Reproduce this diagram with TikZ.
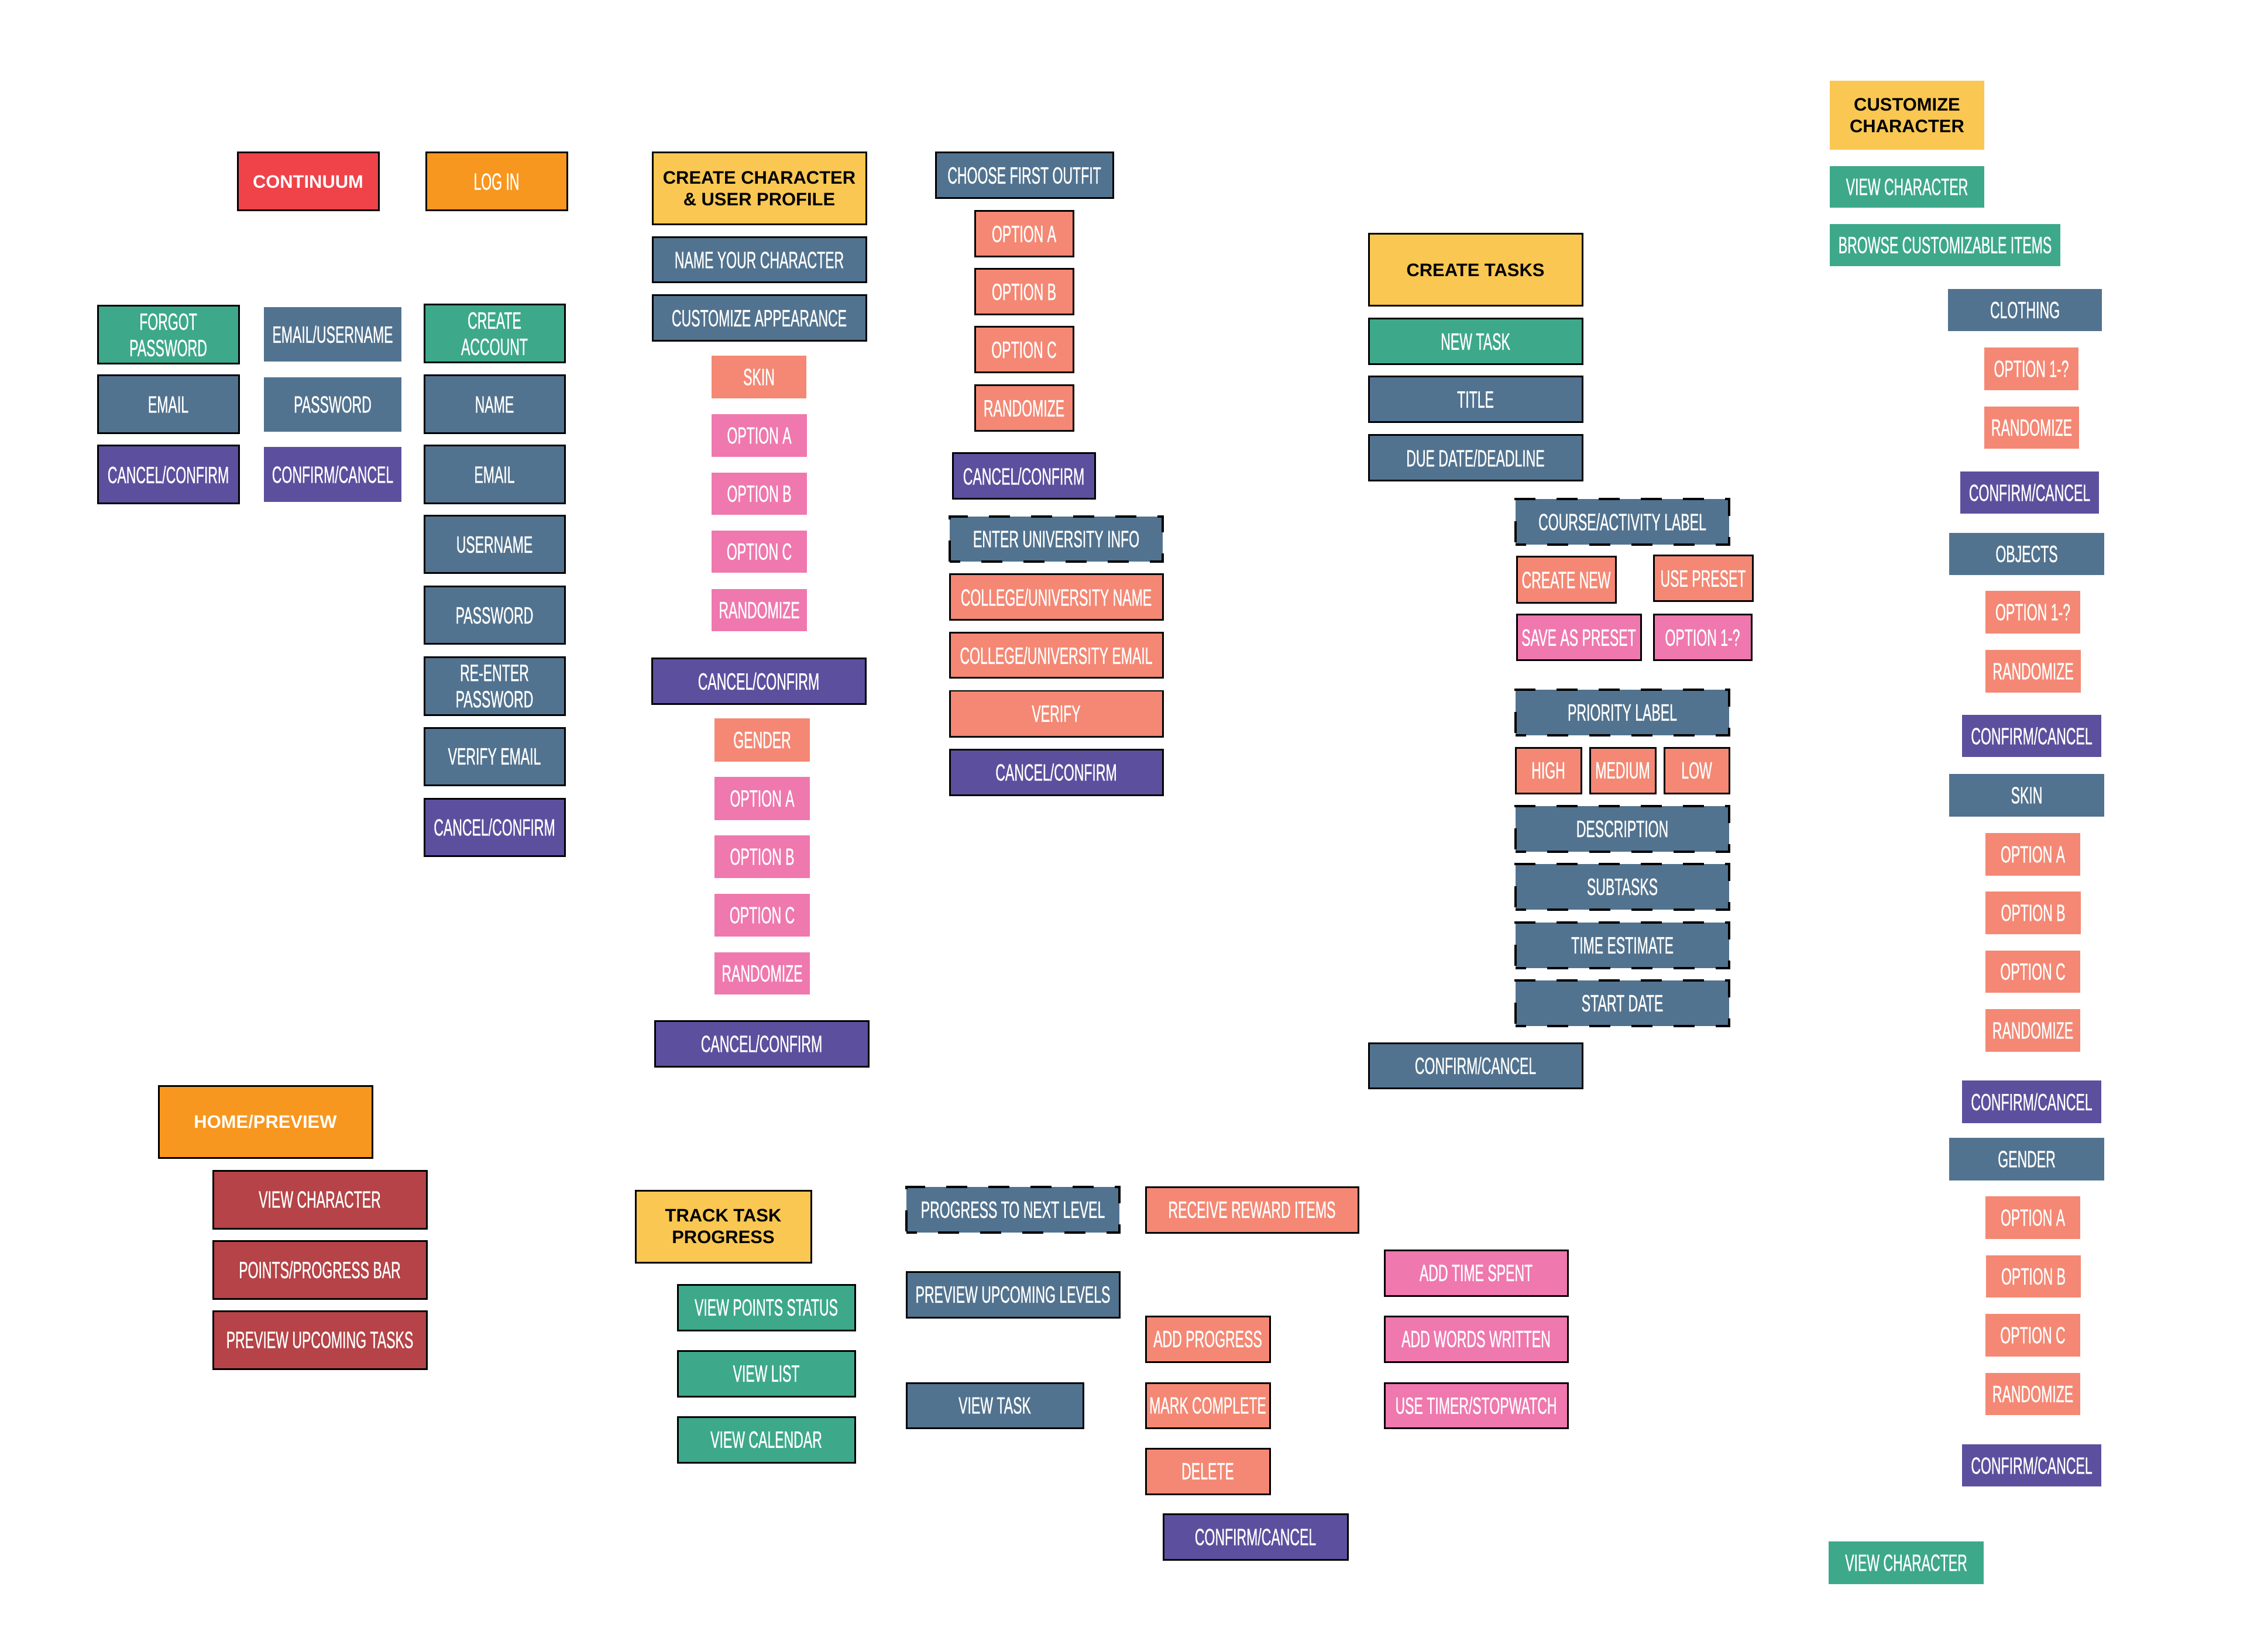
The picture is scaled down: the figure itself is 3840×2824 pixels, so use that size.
\documentclass[tikz,border=0pt]{standalone}
\usepackage{fontspec}
\setmainfont{Liberation Sans}
\newfontfamily\condf[FakeStretch=0.57,FakeBold=0.6]{Liberation Sans}
\definecolor{cRed}{RGB}{239,66,73}
\definecolor{cOrange}{RGB}{247,151,31}
\definecolor{cGreen}{RGB}{61,169,138}
\definecolor{cBlue}{RGB}{82,115,143}
\definecolor{cPurple}{RGB}{92,80,158}
\definecolor{cYellow}{RGB}{249,199,82}
\definecolor{cSalmon}{RGB}{244,136,116}
\definecolor{cPink}{RGB}{239,120,174}
\definecolor{cDark}{RGB}{181,67,71}
\newcommand{\placebox}[7]{\node[#6, minimum width={(#4-#2)*0.1mm}, minimum height={(#5-#3)*0.1mm}] (#1) at ({(#2+#4)/2},{(#3+#5)/2}) {#7};}
\tikzset{
  box/.style={rectangle, inner sep=0pt, outer sep=0pt, text=white, align=center,
    font=\condf\fontsize{11.5}{12.8}\selectfont},
  bd/.style={box, draw=black, line width=0.3mm},
  dsh/.style={box, draw=black, line width=0.4mm, dash pattern=on 3.6mm off 3.6mm, dash phase=1.8mm},
  hdr/.style={text=black, font=\bfseries\fontsize{8.8}{10.6}\selectfont},
  whdr/.style={text=white, font=\bfseries\fontsize{8.8}{10.6}\selectfont},
}
\begin{document}
\begin{tikzpicture}[x=0.1mm,y=-0.1mm]
\fill[white] (0,0) rectangle (3840,2824);
\useasboundingbox (0,0) rectangle (3840,2824);
% ---- login area
\placebox{cont}{406}{261}{647}{360}{bd,fill=cRed,whdr}{CONTINUUM}
\placebox{login}{728}{261}{969}{360}{bd,fill=cOrange}{LOG IN}
\placebox{forgot}{167}{523}{408}{622}{bd,fill=cGreen}{FORGOT\\PASSWORD}
\placebox{emailuser}{451}{525}{686}{618}{box,fill=cBlue}{EMAIL/USERNAME}
\placebox{createacc}{725}{521}{965}{620}{bd,fill=cGreen}{CREATE\\ACCOUNT}
\placebox{emaila}{167}{642}{408}{741}{bd,fill=cBlue}{EMAIL}
\placebox{passa}{451}{645}{686}{738}{box,fill=cBlue}{PASSWORD}
\placebox{name}{725}{642}{965}{741}{bd,fill=cBlue}{NAME}
\placebox{cca}{167}{762}{408}{861}{bd,fill=cPurple}{CANCEL/CONFIRM}
\placebox{ccb}{451}{764}{686}{858}{box,fill=cPurple}{CONFIRM/CANCEL}
\placebox{emailb}{725}{762}{965}{861}{bd,fill=cBlue}{EMAIL}
\placebox{username}{725}{882}{965}{980}{bd,fill=cBlue}{USERNAME}
\placebox{passb}{725}{1003}{965}{1101}{bd,fill=cBlue}{PASSWORD}
\placebox{reenter}{725}{1124}{965}{1222}{bd,fill=cBlue}{RE-ENTER\\PASSWORD}
\placebox{verifyemail}{725}{1244}{965}{1342}{bd,fill=cBlue}{VERIFY EMAIL}
\placebox{ccc}{725}{1365}{965}{1463}{bd,fill=cPurple}{CANCEL/CONFIRM}
% ---- create character
\placebox{createchar}{1115}{261}{1480}{384}{bd,fill=cYellow,hdr}{CREATE CHARACTER\\\& USER PROFILE}
\placebox{namechar}{1115}{406}{1480}{483}{bd,fill=cBlue}{NAME YOUR CHARACTER}
\placebox{custapp}{1115}{505}{1480}{583}{bd,fill=cBlue}{CUSTOMIZE APPEARANCE}
\placebox{skina}{1216}{608}{1378}{681}{box,fill=cSalmon}{SKIN}
\placebox{oaa}{1216}{708}{1379}{781}{box,fill=cPink}{OPTION A}
\placebox{oba}{1216}{808}{1379}{880}{box,fill=cPink}{OPTION B}
\placebox{oca}{1216}{907}{1379}{979}{box,fill=cPink}{OPTION C}
\placebox{randa}{1216}{1007}{1379}{1079}{box,fill=cPink}{RANDOMIZE}
\placebox{ccd}{1114}{1126}{1479}{1203}{bd,fill=cPurple}{CANCEL/CONFIRM}
\placebox{gendera}{1221}{1228}{1384}{1302}{box,fill=cSalmon}{GENDER}
\placebox{oab}{1221}{1328}{1384}{1402}{box,fill=cPink}{OPTION A}
\placebox{obb}{1221}{1428}{1384}{1501}{box,fill=cPink}{OPTION B}
\placebox{ocb}{1221}{1528}{1384}{1601}{box,fill=cPink}{OPTION C}
\placebox{randb}{1221}{1628}{1384}{1700}{box,fill=cPink}{RANDOMIZE}
\placebox{cce}{1119}{1745}{1484}{1823}{bd,fill=cPurple}{CANCEL/CONFIRM}
% ---- outfit / university
\placebox{outfit}{1599}{261}{1902}{339}{bd,fill=cBlue}{CHOOSE FIRST OUTFIT}
\placebox{oac}{1666}{361}{1834}{439}{bd,fill=cSalmon}{OPTION A}
\placebox{obc}{1666}{460}{1834}{538}{bd,fill=cSalmon}{OPTION B}
\placebox{occ}{1666}{559}{1834}{637}{bd,fill=cSalmon}{OPTION C}
\placebox{randc}{1666}{659}{1834}{737}{bd,fill=cSalmon}{RANDOMIZE}
\placebox{ccf}{1628}{775}{1871}{853}{bd,fill=cPurple}{CANCEL/CONFIRM}
\placebox{univ}{1623}{883}{1987}{960}{dsh,fill=cBlue}{ENTER UNIVERSITY INFO}
\placebox{cname}{1623}{982}{1987}{1060}{bd,fill=cSalmon}{COLLEGE/UNIVERSITY NAME}
\placebox{cemail}{1623}{1082}{1987}{1159}{bd,fill=cSalmon}{COLLEGE/UNIVERSITY EMAIL}
\placebox{verify}{1623}{1181}{1987}{1259}{bd,fill=cSalmon}{VERIFY}
\placebox{ccg}{1623}{1281}{1987}{1359}{bd,fill=cPurple}{CANCEL/CONFIRM}
% ---- tasks
\placebox{ctasks}{2339}{400}{2704}{523}{bd,fill=cYellow,hdr}{CREATE TASKS}
\placebox{newtask}{2339}{545}{2704}{623}{bd,fill=cGreen}{NEW TASK}
\placebox{title}{2339}{644}{2704}{722}{bd,fill=cBlue}{TITLE}
\placebox{due}{2339}{744}{2704}{822}{bd,fill=cBlue}{DUE DATE/DEADLINE}
\placebox{course}{2590}{853}{2955}{931}{dsh,fill=cBlue}{COURSE/ACTIVITY LABEL}
\placebox{cnew}{2592}{952}{2761}{1031}{bd,fill=cSalmon}{CREATE NEW}
\placebox{upreset}{2826}{950}{2995}{1028}{bd,fill=cSalmon}{USE PRESET}
\placebox{savep}{2592}{1051}{2804}{1129}{bd,fill=cPink}{SAVE AS PRESET}
\placebox{optq}{2826}{1051}{2993}{1129}{bd,fill=cPink}{OPTION 1-?}
\placebox{priority}{2590}{1179}{2955}{1257}{dsh,fill=cBlue}{PRIORITY LABEL}
\placebox{high}{2590}{1278}{2702}{1356}{bd,fill=cSalmon}{HIGH}
\placebox{medium}{2717}{1278}{2829}{1356}{bd,fill=cSalmon}{MEDIUM}
\placebox{low}{2844}{1278}{2955}{1356}{bd,fill=cSalmon}{LOW}
\placebox{desc}{2590}{1378}{2955}{1456}{dsh,fill=cBlue}{DESCRIPTION}
\placebox{subt}{2590}{1477}{2955}{1555}{dsh,fill=cBlue}{SUBTASKS}
\placebox{timeest}{2590}{1577}{2955}{1655}{dsh,fill=cBlue}{TIME ESTIMATE}
\placebox{start}{2590}{1676}{2955}{1754}{dsh,fill=cBlue}{START DATE}
\placebox{cch}{2339}{1783}{2704}{1860}{bd,fill=cBlue}{CONFIRM/CANCEL}
% ---- customize character
\placebox{custchar}{3127}{138}{3391}{256}{box,fill=cYellow,hdr}{CUSTOMIZE\\CHARACTER}
\placebox{viewcha}{3127}{284}{3391}{355}{box,fill=cGreen}{VIEW CHARACTER}
\placebox{browse}{3127}{383}{3521}{455}{box,fill=cGreen}{BROWSE CUSTOMIZABLE ITEMS}
\placebox{cloth}{3329}{494}{3592}{566}{box,fill=cBlue}{CLOTHING}
\placebox{oqa}{3391}{594}{3552}{667}{box,fill=cSalmon}{OPTION 1-?}
\placebox{rnda}{3391}{695}{3553}{767}{box,fill=cSalmon}{RANDOMIZE}
\placebox{cci}{3350}{806}{3587}{878}{box,fill=cPurple}{CONFIRM/CANCEL}
\placebox{obj}{3331}{911}{3596}{983}{box,fill=cBlue}{OBJECTS}
\placebox{oqb}{3393}{1010}{3555}{1083}{box,fill=cSalmon}{OPTION 1-?}
\placebox{rndb}{3393}{1111}{3556}{1184}{box,fill=cSalmon}{RANDOMIZE}
\placebox{ccj}{3353}{1222}{3591}{1294}{box,fill=cPurple}{CONFIRM/CANCEL}
\placebox{skinb}{3331}{1323}{3596}{1396}{box,fill=cBlue}{SKIN}
\placebox{oad}{3393}{1424}{3555}{1497}{box,fill=cSalmon}{OPTION A}
\placebox{obd}{3393}{1524}{3556}{1597}{box,fill=cSalmon}{OPTION B}
\placebox{ocd}{3393}{1625}{3555}{1697}{box,fill=cSalmon}{OPTION C}
\placebox{rndc}{3393}{1725}{3555}{1798}{box,fill=cSalmon}{RANDOMIZE}
\placebox{cck}{3353}{1847}{3591}{1920}{box,fill=cPurple}{CONFIRM/CANCEL}
\placebox{genderb}{3331}{1945}{3596}{2018}{box,fill=cBlue}{GENDER}
\placebox{oae}{3393}{2045}{3555}{2118}{box,fill=cSalmon}{OPTION A}
\placebox{obe}{3394}{2146}{3556}{2218}{box,fill=cSalmon}{OPTION B}
\placebox{oce}{3393}{2246}{3555}{2319}{box,fill=cSalmon}{OPTION C}
\placebox{rndd}{3393}{2347}{3555}{2419}{box,fill=cSalmon}{RANDOMIZE}
\placebox{ccl}{3353}{2469}{3591}{2541}{box,fill=cPurple}{CONFIRM/CANCEL}
\placebox{viewchb}{3125}{2635}{3390}{2708}{box,fill=cGreen}{VIEW CHARACTER}
% ---- home / tracking
\placebox{home}{271}{1856}{636}{1979}{bd,fill=cOrange,whdr}{HOME/PREVIEW}
\placebox{viewchc}{364}{2001}{729}{2100}{bd,fill=cDark}{VIEW CHARACTER}
\placebox{points}{364}{2121}{729}{2220}{bd,fill=cDark}{POINTS/PROGRESS BAR}
\placebox{prevtasks}{364}{2241}{729}{2340}{bd,fill=cDark}{PREVIEW UPCOMING TASKS}
\placebox{track}{1086}{2035}{1386}{2158}{bd,fill=cYellow,hdr}{TRACK TASK\\PROGRESS}
\placebox{vpoints}{1158}{2196}{1461}{2274}{bd,fill=cGreen}{VIEW POINTS STATUS}
\placebox{vlist}{1158}{2309}{1461}{2387}{bd,fill=cGreen}{VIEW LIST}
\placebox{vcal}{1158}{2422}{1461}{2500}{bd,fill=cGreen}{VIEW CALENDAR}
\placebox{pnext}{1549}{2029}{1913}{2107}{dsh,fill=cBlue}{PROGRESS TO NEXT LEVEL}
\placebox{reward}{1958}{2029}{2321}{2107}{bd,fill=cSalmon}{RECEIVE REWARD ITEMS}
\placebox{prevlevels}{1549}{2174}{1913}{2252}{bd,fill=cBlue}{PREVIEW UPCOMING LEVELS}
\placebox{addtime}{2366}{2137}{2679}{2215}{bd,fill=cPink}{ADD TIME SPENT}
\placebox{addprog}{1958}{2250}{2170}{2328}{bd,fill=cSalmon}{ADD PROGRESS}
\placebox{addwords}{2366}{2250}{2679}{2328}{bd,fill=cPink}{ADD WORDS WRITTEN}
\placebox{vtask}{1549}{2364}{1851}{2441}{bd,fill=cBlue}{VIEW TASK}
\placebox{markc}{1958}{2364}{2170}{2441}{bd,fill=cSalmon}{MARK COMPLETE}
\placebox{timer}{2366}{2364}{2679}{2441}{bd,fill=cPink}{USE TIMER/STOPWATCH}
\placebox{delete}{1958}{2476}{2170}{2554}{bd,fill=cSalmon}{DELETE}
\placebox{ccm}{1988}{2588}{2303}{2666}{bd,fill=cPurple}{CONFIRM/CANCEL}
\end{tikzpicture}
\end{document}
